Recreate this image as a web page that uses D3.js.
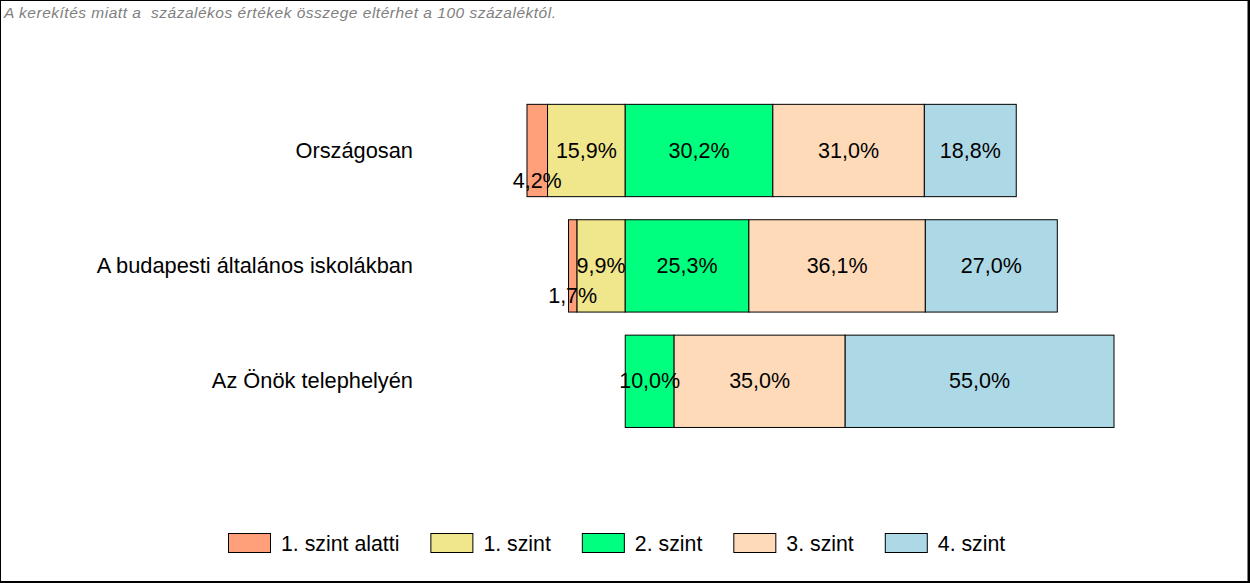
<!DOCTYPE html>
<html><head><meta charset="utf-8">
<script src="https://cdn.jsdelivr.net/npm/d3@7"></script>
<style>body{margin:0;background:#fff}svg{display:block}</style>
</head><body>
<svg id="c" width="1250" height="583"></svg>
<script>
const categories = ["Országosan", "A budapesti általános iskolákban", "Az Önök telephelyén"];
const seriesNames = ["1. szint alatti", "1. szint", "2. szint", "3. szint", "4. szint"];
const seriesColors = ["#FFA07A", "#F0E68C", "#00FF7F", "#FFDAB9", "#ADD8E6"];
const below1 = [4.2, 1.7, 0];
const level1 = [15.9, 9.9, 0];
const level2 = [30.2, 25.3, 10.0];
const level3 = [31.0, 36.1, 35.0];
const level4 = [18.8, 27.0, 55.0];
const note = "A kerekítés miatt a  százalékos értékek összege eltérhet a 100 százaléktól.";

const values = [below1, level1, level2, level3, level4];
const svg = d3.select("#c");
const font = "'Liberation Sans', Arial, sans-serif";

// frame
svg.append("rect").attr("x",0.5).attr("y",0.5).attr("width",1247.5).attr("height",581).attr("fill","none").attr("stroke","#000").attr("stroke-width",1);
svg.append("line").attr("x1",1249).attr("x2",1249).attr("y1",0).attr("y2",583).attr("stroke","#000").attr("stroke-width",2);
svg.append("line").attr("x1",0).attr("x2",1250).attr("y1",582).attr("y2",582).attr("stroke","#000").attr("stroke-width",2);

svg.append("text").attr("x",4).attr("y",18).attr("font-family",font).attr("font-style","italic")
  .attr("font-size",15.5).attr("fill","#7f7f7f").style("white-space","pre")
  .attr("textLength",552).attr("lengthAdjust","spacing").text(note);

const x = d3.scaleLinear().domain([-30, 100]).range([625 - 30*4.88, 625 + 100*4.89]);
const y = d3.scaleBand().domain(categories).range([92.8, 439]).paddingInner(0.2).paddingOuter(0.1);

const segs = [];
categories.forEach((c, i) => {
  const l1 = values[1][i], l0 = values[0][i];
  segs.push({cat:c, s:1, x0:-l1, x1:0, v:l1});
  segs.push({cat:c, s:0, x0:-l1-l0, x1:-l1, v:l0});
  let acc = 0;
  for (let s = 2; s < 5; s++) {
    const v = values[s][i];
    segs.push({cat:c, s, x0:acc, x1:acc+v, v});
    acc += v;
  }
});
const shown = segs.filter(d => d.v > 0);

svg.append("g").selectAll("rect").data(shown).join("rect")
  .attr("x", d => x(d.x0)).attr("width", d => x(d.x1) - x(d.x0))
  .attr("y", d => y(d.cat)).attr("height", y.bandwidth())
  .attr("fill", d => seriesColors[d.s]).attr("stroke","#000").attr("stroke-width",1);

const fmt = v => v.toFixed(1).replace(".", ",") + "%";
svg.append("g").selectAll("text").data(shown).join("text")
  .attr("x", d => (x(d.x0) + x(d.x1)) / 2)
  .attr("y", d => y(d.cat) + y.bandwidth()/2 + 7 + (d.s === 0 ? 30 : 0))
  .attr("text-anchor","middle").attr("font-family",font).attr("font-size",21.5).attr("fill","#000")
  .text(d => fmt(d.v));

svg.append("g").selectAll("text").data(categories).join("text")
  .attr("x", 413).attr("y", d => y(d) + y.bandwidth()/2 + 7)
  .attr("text-anchor","end").attr("font-family",font).attr("font-size",21.8).attr("fill","#000")
  .text(d => d);

// legend
const lg = svg.append("g");
let lx = 228;
seriesNames.forEach((n, i) => {
  lg.append("rect").attr("x", lx + 0.5).attr("y", 533.5).attr("width", 42).attr("height", 19)
    .attr("fill", seriesColors[i]).attr("stroke","#000");
  const t = lg.append("text").attr("x", lx + 53).attr("y", 551).attr("font-family",font).attr("font-size",21.3).text(n);
  lx += 53 + t.node().getComputedTextLength() + 31;
});
</script>
</body></html>
